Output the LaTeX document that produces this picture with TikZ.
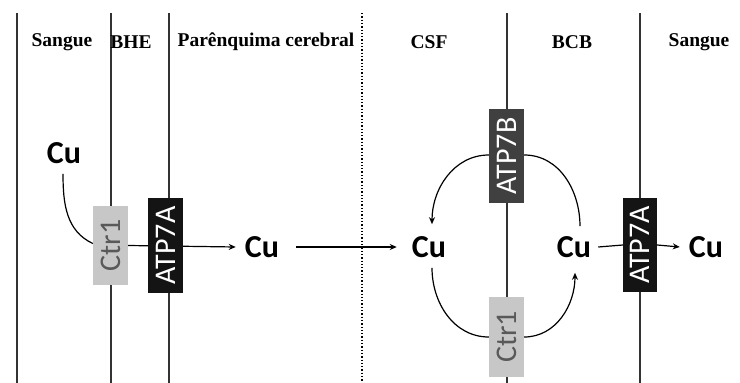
\documentclass[tikz,border=0pt]{standalone}
\usepackage{fontspec}
\setmainfont{Liberation Serif}
\newfontfamily\carl{Carlito}
\usetikzlibrary{arrows.meta,backgrounds}
\begin{document}
\begin{tikzpicture}[x=1pt,y=-1pt,
  hdr/.style={font=\bfseries\fontsize{19.5}{21}\selectfont, inner sep=0pt},
  cu/.style={font=\carl\bfseries\fontsize{32}{34}\selectfont, inner sep=1pt},
  prot/.style={rotate=90, font=\carl\fontsize{30}{32}\selectfont, inner sep=0pt, minimum height=35pt},
  light/.style={prot, fill=black!22, text=black!65},
  darkb/.style={prot, fill=black!92, text=white},
  midb/.style={prot, fill=black!75, text=white},
  wall/.style={line width=1.2pt, draw=black!80},
  arr/.style={line width=1.2pt, -{Stealth[length=7pt,width=6pt]}},
  ln/.style={line width=1.2pt}]
\useasboundingbox (0,0) rectangle (740,383);
% headers
\node[hdr] (h1) at (62,42) {Sangue};
\node[hdr] (h2) at (131,42) {BHE};
\node[hdr] (h3) at (266,42) {Parênquima cerebral};
\node[hdr] (h4) at (429,42) {CSF};
\node[hdr] (h5) at (572,42) {BCB};
\node[hdr] (h6) at (699,42) {Sangue};
% wall end points
\coordinate (w1t) at (17,13);  \coordinate (w1b) at (17,383);
\coordinate (w2t) at (111,13); \coordinate (w2b) at (111,383);
\coordinate (w3t) at (169,13); \coordinate (w3b) at (169,383);
\coordinate (w4t) at (362,13); \coordinate (w4b) at (362,383);
\coordinate (w5t) at (507,13); \coordinate (w5b) at (507,383);
\coordinate (w6t) at (640,13); \coordinate (w6b) at (640,383);
% proteins
\node[light, minimum width=79pt] (ctrA) at (110.5,245.5) {Ctr1};
\node[darkb, minimum width=95pt] (atpA1) at (165.5,245.5) {ATP7A};
\node[midb, minimum width=94pt] (atpB) at (506.5,156) {ATP7B};
\node[light, minimum width=80pt] (ctrB) at (506.5,337) {Ctr1};
\node[darkb, minimum width=94pt, minimum height=34pt] (atpA2) at (640,245) {ATP7A};
% copper
\node[cu] (cu1) at (64,153) {Cu};
\node[cu] (cu2) at (262,247) {Cu};
\node[cu] (cu3) at (429,247) {Cu};
\node[cu] (cu4) at (574,247) {Cu};
\node[cu] (cu5) at (706,247) {Cu};
\begin{scope}[on background layer]
\draw[wall] (w1t) -- (w1b);
\draw[wall] (w2t) -- (w2b);
\draw[wall] (w3t) -- (w3b);
\draw[line width=1.3pt, dotted] (w4t) -- (w4b);
\draw[wall] (w5t) -- (w5b);
\draw[wall] (w6t) -- (w6b);
\draw[arr] (ctrA.south) -- ([xshift=-8pt]cu2.west);
\draw[arr] (atpA2.south) -- ([xshift=-8pt]cu5.west);
\draw[ln] ([xshift=6pt]cu4.east) -- (atpA2.north);
\end{scope}
\draw[ln] ([xshift=-1pt,yshift=-9pt]cu1.south) to[out=-90,in=155] ([yshift=2pt]ctrA.north);
\draw[arr] ([xshift=16pt]cu2.east) -- ([xshift=-14pt]cu3.west);
\draw[arr] ([yshift=1pt]atpB.north) to[out=180,in=90] ([xshift=3pt,yshift=11pt]cu3.north);
\draw[ln] ([yshift=1pt]atpB.south) to[out=0,in=90] ([xshift=6pt,yshift=9pt]cu4.north);
\draw[ln] ([xshift=3pt,yshift=-9pt]cu3.south) to[out=-90,in=180] (ctrB.north);
\draw[arr] (ctrB.south) to[out=0,in=-90] ([xshift=1pt,yshift=-14pt]cu4.south);
\end{tikzpicture}
\end{document}
